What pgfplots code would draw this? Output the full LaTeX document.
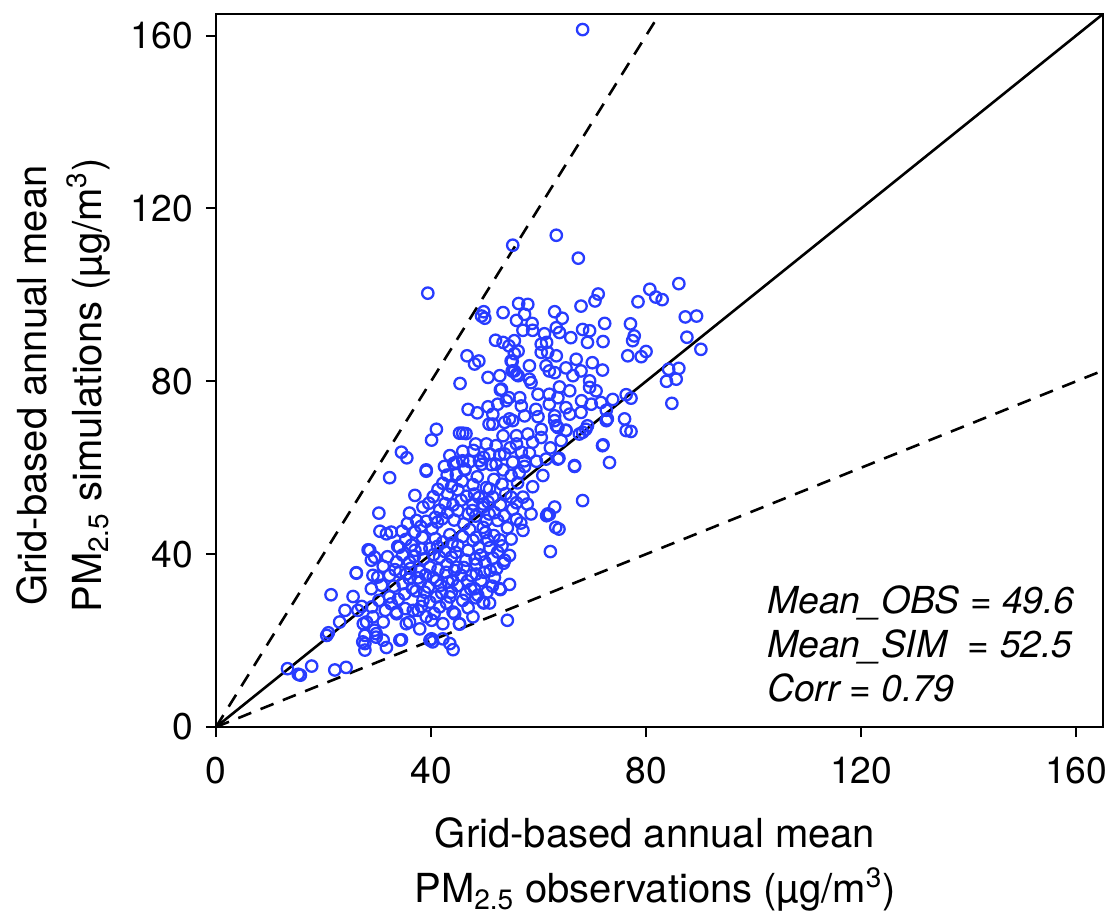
\documentclass[border=0pt]{standalone}
\usepackage{fontspec}
\setmainfont{TeX Gyre Heros}
\usepackage{pgfplots}
\pgfplotsset{compat=1.18}
\definecolor{ptblue}{RGB}{40,60,255}
\pgfplotstableread{
x y
68.2 161.4
63.3 113.8
55.2 111.5
67.4 108.5
39.4 100.4
86.1 102.6
80.7 101.3
81.8 99.5
83.0 98.9
78.5 98.4
71.1 100.2
70.5 98.6
67.9 97.4
89.4 95.1
87.3 94.9
90.2 87.4
87.6 90.2
77.1 93.3
77.8 90.5
77.5 89.4
76.6 85.9
80.0 86.9
79.1 85.7
84.2 82.8
86.1 83.0
83.8 80.0
85.6 80.5
84.8 74.9
76.3 76.9
77.2 76.1
68.0 75.5
72.8 71.3
71.9 65.1
73.2 61.2
68.2 52.4
61.5 48.9
63.2 46.2
62.2 40.6
54.2 24.7
13.3 13.5
15.3 12.2
15.7 12.0
17.8 14.1
22.1 13.2
24.2 13.8
20.6 21.2
20.9 21.8
21.4 30.6
26.1 35.7
23.0 24.3
24.0 27.0
26.4 27.0
27.1 27.9
27.3 19.7
27.7 17.8
28.0 24.3
29.5 22.4
29.8 20.8
31.1 20.1
31.7 18.4
34.5 20.2
40.1 20.4
40.3 19.7
43.5 19.3
44.1 17.9
45.3 23.8
54.6 33.0
52.9 31.8
51.4 32.6
50.9 28.7
49.8 28.7
51.0 36.2
53.5 37.9
49.8 96.1
49.4 95.1
50.0 94.6
46.7 85.9
48.1 84.0
48.9 84.7
50.6 80.9
45.4 79.5
46.9 73.5
48.6 72.7
50.6 74.1
50.8 70.1
41.0 68.9
40.1 66.4
45.3 68.0
45.9 68.0
46.5 67.9
48.3 65.5
50.3 65.5
34.5 63.6
35.5 62.3
43.5 62.8
45.9 63.8
44.2 61.0
42.5 60.3
49.0 61.6
49.8 62.4
39.1 59.5
45.9 61.6
72.3 93.4
56.3 98.0
58.0 97.8
53.4 95.9
57.4 95.5
55.9 94.1
63.0 96.1
64.4 94.6
58.8 93.4
57.1 91.8
58.9 91.8
61.1 91.0
61.5 89.0
63.3 92.4
63.9 91.3
66.0 90.1
68.2 92.0
69.5 91.7
69.1 89.0
72.0 89.2
52.0 89.5
53.4 89.0
54.5 88.2
55.5 89.4
56.2 87.0
60.5 88.6
60.5 86.7
61.7 86.7
63.3 85.9
54.9 84.7
58.3 83.6
61.4 83.6
62.0 82.4
65.1 83.1
67.0 85.1
70.0 84.3
71.9 82.6
52.8 81.3
55.5 82.4
56.2 81.3
58.3 80.5
58.6 79.7
63.0 82.0
66.4 81.3
67.9 82.4
69.5 80.1
53.1 78.2
59.9 77.0
62.0 77.0
63.9 78.7
65.8 77.8
69.5 78.6
70.7 77.8
54.5 76.2
56.5 76.2
62.0 74.7
63.6 76.2
52.4 74.7
54.0 75.5
56.8 74.3
59.5 73.5
65.1 73.9
69.8 74.7
71.6 75.1
73.8 75.8
72.6 73.3
51.5 72.4
54.6 71.3
57.4 72.0
59.9 71.8
63.0 72.0
65.8 72.4
67.9 72.8
51.5 70.1
53.7 70.5
55.2 70.9
63.0 70.9
63.6 69.3
69.1 69.7
72.6 70.9
76.0 71.3
53.4 67.4
55.9 67.4
58.0 67.8
60.5 68.9
65.1 68.6
68.2 68.2
76.3 68.6
52.1 65.1
55.9 65.5
58.9 65.9
60.5 67.0
64.2 66.3
72.0 65.3
50.9 63.2
53.7 63.2
56.8 63.6
57.4 61.6
61.4 62.0
63.6 62.0
66.7 60.5
49.4 60.8
52.1 60.8
55.2 61.3
32.3 57.7
39.1 59.2
44.7 58.4
46.3 59.7
30.3 49.5
36.0 49.5
37.0 53.6
38.5 50.9
40.4 53.3
42.2 56.4
43.1 53.9
45.6 52.5
47.8 56.1
48.1 53.9
50.3 55.4
30.5 45.3
32.6 45.1
34.6 45.3
37.0 45.1
39.1 47.6
41.2 47.4
43.1 49.6
45.0 50.1
46.9 49.3
49.7 51.6
33.8 41.8
37.0 40.9
39.8 41.3
42.2 42.8
45.0 42.0
47.8 43.2
49.7 46.2
28.6 40.9
28.9 38.6
31.1 37.2
33.6 38.2
36.0 38.2
39.8 37.0
41.6 39.3
43.8 39.3
46.5 38.6
48.4 37.7
26.1 35.6
29.2 35.1
32.3 35.1
35.4 35.4
37.6 34.5
40.4 34.6
42.8 35.8
45.6 35.1
48.4 35.4
28.9 32.0
30.8 32.8
32.3 30.1
35.1 30.8
38.8 31.2
41.0 30.1
43.8 31.2
46.5 30.8
49.7 28.9
27.4 23.9
29.2 25.5
31.1 24.3
33.6 26.2
36.0 24.3
37.6 27.0
39.1 25.5
41.6 27.8
44.1 26.6
45.3 23.9
47.8 25.5
27.7 21.2
29.8 21.6
34.2 20.1
39.8 20.1
27.7 19.3
51.2 60.7
53.4 59.5
54.9 58.2
57.4 60.3
60.8 58.2
66.7 60.3
50.9 55.1
51.5 53.2
54.9 53.2
57.1 53.2
47.8 51.6
49.6 50.9
51.8 49.6
55.2 50.4
58.6 49.3
61.7 49.3
63.0 50.9
50.3 47.8
52.4 47.8
55.9 48.1
57.1 45.5
63.8 45.8
48.4 43.9
50.6 43.2
52.8 43.3
54.9 43.5
48.9 41.5
50.9 41.5
52.4 40.5
54.6 39.7
50.0 38.2
53.7 38.6
47.5 35.1
48.1 32.0
52.8 32.0
48.7 30.5
28.3 41.0
29.5 39.3
31.7 44.7
34.1 41.6
44.7 61.3
46.3 59.5
63.3 69.7
65.1 68.7
67.6 67.8
68.8 68.9
77.2 68.4
63.8 62.2
62.0 49.2
55.5 86.4
55.1 84.6
55.1 82.4
55.9 81.6
52.9 78.0
32.6 28.5
33.6 26.6
38.5 29.3
36.7 27.0
39.8 28.9
35.4 23.9
37.9 22.7
40.1 24.7
42.2 23.9
41.0 33.9
44.7 37.0
43.5 30.1
45.9 29.3
44.4 26.2
42.2 20.4
34.8 33.2
36.5 32.1
38.0 33.6
39.5 32.4
41.8 32.8
43.2 33.5
44.9 32.7
46.8 33.8
49.3 33.9
36.2 36.7
37.9 36.1
41.3 36.4
43.0 37.6
44.4 36.2
46.1 36.9
49.9 35.8
51.8 34.6
34.7 39.8
36.9 39.5
38.6 38.9
40.5 39.9
42.6 40.6
44.6 40.4
46.9 40.9
49.2 39.8
51.5 39.1
53.2 41.9
35.3 43.4
36.4 42.1
38.4 43.9
40.8 43.6
43.5 44.5
45.9 44.1
47.2 45.7
50.1 45.0
51.7 44.3
54.2 46.1
35.6 47.1
38.1 46.4
40.2 45.9
42.1 48.2
44.3 47.9
46.1 47.0
48.3 48.8
50.8 49.3
53.6 48.9
56.7 47.2
39.6 51.8
41.6 50.2
44.1 51.4
46.6 53.4
48.9 53.1
52.9 51.4
55.9 51.9
57.9 51.6
41.3 55.0
43.8 55.6
45.8 56.9
48.6 57.9
51.7 57.3
53.2 56.2
56.1 56.5
58.9 55.6
43.0 58.3
47.2 61.4
52.8 63.0
54.7 64.6
47.9 64.0
38.2 27.9
40.6 26.3
42.9 28.7
46.9 27.6
48.3 29.9
35.2 27.4
33.9 29.6
31.5 27.0
30.3 29.3
33.1 32.6
30.1 34.7
31.9 39.4
33.3 36.4
29.0 27.8
25.5 30.2
37.2 31.5
39.0 35.2
42.0 31.0
44.0 34.0
47.4 31.9
50.4 31.2
36.0 34.3
34.2 35.9
38.2 41.2
41.2 41.8
43.9 42.6
48.2 38.9
52.2 36.6
37.3 47.8
40.8 48.5
42.6 51.7
47.7 50.1
50.6 52.1
45.0 54.9
53.9 54.0
56.4 58.8
58.3 63.4
62.2 64.6
59.6 61.5
}\pts
\begin{document}
\begin{tikzpicture}
\path[use as bounding box] (-108pt,-95.5pt) rectangle (449.5pt,363.5pt);
\begin{axis}[
  at={(0,0)}, anchor=south west,
  scale only axis, width=443.5pt, height=356.5pt,
  xmin=0, xmax=165, ymin=0, ymax=165,
  xtick={0,40,80,120,160}, ytick={0,40,80,120,160},
  tick align=outside, xtick pos=bottom, ytick pos=left,
  major tick length=5pt,
  every tick/.style={black, line width=1pt},
  axis line style={line width=1pt},
  tick label style={font=\fontsize{18.6}{22}\selectfont},
  /pgf/number format/assume math mode=true,
  yticklabel style={xshift=-3pt},
  xticklabel style={yshift=-6.5pt},
  label style={font=\fontsize{20}{27.5}\selectfont, align=center},
  xlabel={Grid-based annual mean\\PM\textsubscript{2.5} observations (µg/m\textsuperscript{3})},
  ylabel={Grid-based annual mean\\PM\textsubscript{2.5} simulations (µg/m\textsuperscript{3})},
  xlabel style={at={(axis description cs:0.495,-0.1178)}, anchor=north},
  ylabel style={at={(axis description cs:-0.2322,0.479)}, anchor=north},
  clip=false,
]
\addplot[only marks, mark=o, mark size=2.85pt, ptblue, line width=1.15pt] table[x=x,y=y] {\pts};
\addplot[black, line width=1.3pt] coordinates {(0,0) (165,165)};
\addplot[black, line width=1.3pt, dash pattern=on 7pt off 5pt] coordinates {(0,0) (82.5,165)};
\addplot[black, line width=1.3pt, dash pattern=on 7pt off 5pt] coordinates {(0,0) (165,82.5)};
\node[anchor=base west, inner sep=0, font=\fontsize{18.6}{22}\selectfont\itshape] at (axis cs:102.5,26.3) {Mean\_OBS = 49.6};
\node[anchor=base west, inner sep=0, font=\fontsize{18.6}{22}\selectfont\itshape] at (axis cs:102.5,16.2) {Mean\_SIM\ \ = 52.5};
\node[anchor=base west, inner sep=0, font=\fontsize{18.6}{22}\selectfont\itshape] at (axis cs:102.5,6.0) {Corr = 0.79};
\end{axis}
\end{tikzpicture}
\end{document}
